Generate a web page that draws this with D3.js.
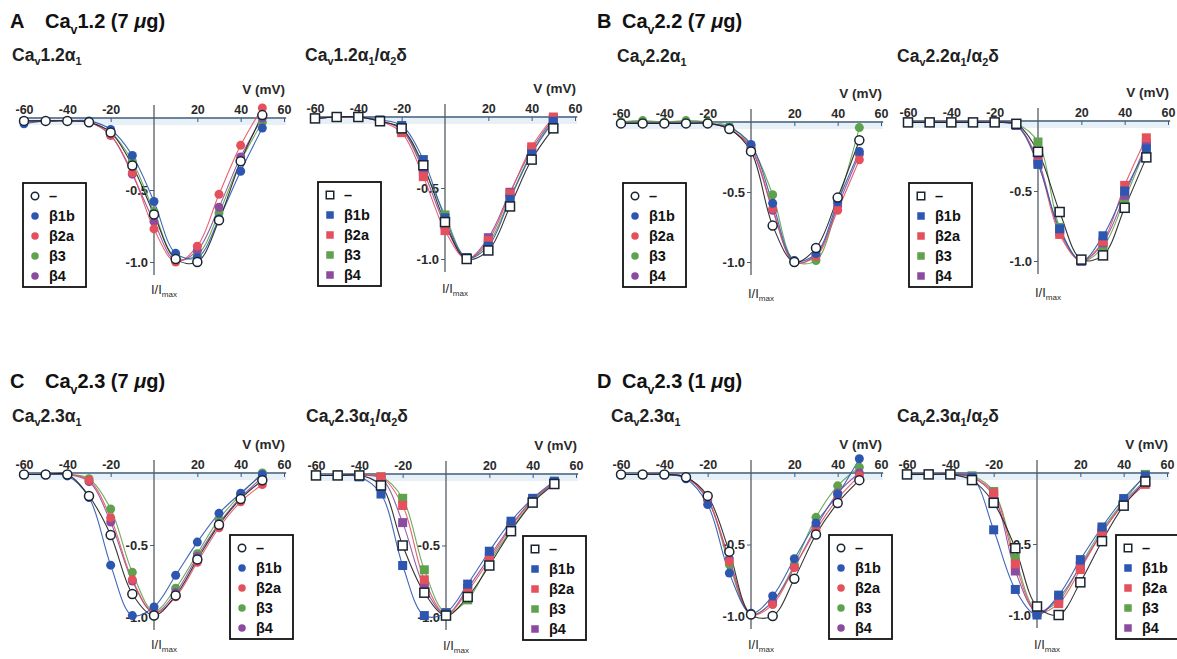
<!DOCTYPE html>
<html>
<head>
<meta charset="utf-8">
<script src="https://cdn.jsdelivr.net/npm/d3@7"></script>
<style>
  body { margin: 0; background: #fff; }
  svg { display: block; }
  text { font-family: "Liberation Sans", Arial, sans-serif; }
</style>
</head>
<body>
<div id="chart"></div>
<script>
// test potentials (mV) and series
const volts = [-60, -50, -40, -30, -20, -10, 0, 10, 20, 30, 40, 50];
const betaLabels = ["–", "β1b", "β2a", "β3", "β4"];
const betaColors = ["#1e1e1e", "#2c56b0", "#e4505c", "#5ea24e", "#8b4b9f"];
const xTicks = [-60, -40, -20, 20, 40, 60];
const yTicks = [-0.5, -1.0];

// normalised I/Imax, one row per series: control, b1b, b2a, b3, b4
const cav12Alpha1 = [
  [-0.02, -0.02, -0.02, -0.03, -0.10, -0.33, -0.67, -0.98, -1.00, -0.71, -0.30, 0.02],
  [-0.04, -0.02, -0.02, -0.02, -0.08, -0.26, -0.58, -0.94, -0.97, -0.70, -0.37, -0.07],
  [-0.02, -0.02, -0.02, -0.03, -0.12, -0.38, -0.77, -1.00, -0.89, -0.53, -0.19, 0.07],
  [-0.02, -0.02, -0.02, -0.03, -0.10, -0.30, -0.65, -0.97, -0.95, -0.66, -0.30, -0.03],
  [-0.02, -0.02, -0.02, -0.03, -0.12, -0.39, -0.72, -0.99, -0.92, -0.62, -0.27, 0.00]
];
const cav12Delta = [
  [-0.01, 0.00, 0.00, -0.03, -0.08, -0.34, -0.74, -1.00, -0.94, -0.63, -0.30, -0.08],
  [-0.01, 0.00, 0.00, -0.02, -0.06, -0.30, -0.71, -0.99, -0.91, -0.58, -0.26, -0.03],
  [-0.01, 0.00, 0.00, -0.03, -0.11, -0.42, -0.80, -1.00, -0.87, -0.54, -0.21, 0.00],
  [-0.01, 0.00, 0.00, -0.03, -0.08, -0.36, -0.69, -0.99, -0.89, -0.57, -0.25, -0.02],
  [-0.01, 0.00, 0.00, -0.03, -0.09, -0.38, -0.76, -1.00, -0.85, -0.53, -0.23, -0.01]
];
const cav22Alpha1 = [
  [-0.01, -0.01, -0.01, -0.01, -0.01, -0.05, -0.21, -0.74, -1.00, -0.90, -0.54, -0.13],
  [-0.01, -0.01, -0.01, -0.01, -0.01, -0.04, -0.16, -0.58, -0.99, -0.94, -0.57, -0.21],
  [-0.01, -0.01, -0.01, -0.01, -0.01, -0.05, -0.18, -0.62, -1.00, -0.96, -0.63, -0.27],
  [0.00, 0.01, 0.00, 0.01, 0.00, -0.03, -0.17, -0.52, -0.99, -0.99, -0.58, -0.04],
  [-0.01, -0.01, -0.01, -0.01, -0.01, -0.05, -0.19, -0.63, -1.00, -0.95, -0.60, -0.23]
];
const cav22Delta = [
  [-0.01, -0.01, -0.01, -0.01, -0.01, -0.02, -0.22, -0.65, -0.99, -0.96, -0.62, -0.26],
  [-0.01, -0.01, -0.01, -0.01, -0.01, -0.03, -0.31, -0.77, -1.00, -0.82, -0.50, -0.20],
  [-0.01, -0.01, -0.01, -0.01, -0.01, -0.03, -0.30, -0.81, -1.00, -0.86, -0.46, -0.12],
  [-0.01, -0.01, -0.01, -0.01, -0.01, -0.02, -0.15, -0.76, -1.00, -0.90, -0.56, -0.18],
  [-0.01, -0.01, -0.01, -0.01, -0.01, -0.03, -0.28, -0.79, -1.00, -0.87, -0.53, -0.16]
];
const cav23Alpha1 = [
  [-0.01, -0.01, -0.01, -0.16, -0.43, -0.84, -0.99, -0.85, -0.60, -0.36, -0.18, -0.05],
  [-0.01, -0.01, -0.02, -0.17, -0.64, -0.99, -0.93, -0.71, -0.48, -0.28, -0.14, -0.01],
  [-0.01, -0.01, -0.01, -0.05, -0.31, -0.74, -0.97, -0.86, -0.62, -0.38, -0.20, -0.08],
  [-0.01, -0.01, -0.01, -0.04, -0.25, -0.69, -0.96, -0.80, -0.56, -0.32, -0.15, 0.00],
  [-0.01, -0.01, -0.01, -0.06, -0.34, -0.75, -0.97, -0.83, -0.58, -0.35, -0.17, -0.03]
];
const cav23Delta = [
  [-0.01, -0.01, -0.01, -0.08, -0.50, -0.83, -0.99, -0.86, -0.64, -0.40, -0.20, -0.07],
  [-0.01, -0.01, -0.02, -0.14, -0.64, -0.99, -0.97, -0.77, -0.54, -0.33, -0.17, -0.05],
  [-0.01, -0.01, -0.01, -0.02, -0.22, -0.74, -0.98, -0.82, -0.60, -0.37, -0.18, -0.06],
  [-0.01, -0.01, -0.01, -0.02, -0.17, -0.67, -0.97, -0.88, -0.62, -0.39, -0.19, -0.06],
  [-0.01, -0.01, -0.01, -0.03, -0.34, -0.79, -0.98, -0.80, -0.58, -0.36, -0.18, -0.06]
];
const cav23LowAlpha1 = [
  [-0.01, -0.01, -0.01, -0.03, -0.16, -0.55, -0.99, -1.00, -0.74, -0.43, -0.21, -0.05],
  [-0.01, -0.01, -0.01, -0.04, -0.22, -0.70, -0.98, -0.86, -0.60, -0.35, -0.15, 0.10],
  [-0.01, -0.01, -0.01, -0.03, -0.18, -0.62, -0.99, -0.92, -0.66, -0.40, -0.18, -0.02],
  [-0.01, -0.01, -0.01, -0.03, -0.18, -0.64, -0.99, -0.90, -0.64, -0.31, -0.09, 0.04],
  [-0.01, -0.01, -0.01, -0.03, -0.19, -0.60, -0.99, -0.90, -0.66, -0.38, -0.14, 0.00]
];
const cav23LowDelta = [
  [-0.01, -0.01, -0.01, -0.05, -0.21, -0.53, -0.94, -1.00, -0.77, -0.48, -0.23, -0.06],
  [-0.01, -0.01, -0.01, -0.03, -0.40, -0.82, -1.00, -0.86, -0.61, -0.38, -0.18, -0.02],
  [-0.01, -0.01, -0.01, -0.03, -0.14, -0.64, -0.98, -0.92, -0.68, -0.42, -0.22, -0.08],
  [-0.01, -0.01, -0.01, -0.02, -0.13, -0.60, -0.97, -0.90, -0.65, -0.40, -0.20, -0.01],
  [-0.01, -0.01, -0.01, -0.03, -0.16, -0.69, -0.98, -0.88, -0.66, -0.42, -0.21, -0.05]
];

// text pieces: [string, style]  style: "sub" | "i" | undefined
const alpha1Sub = (n) => [["Ca"], ["v", "sub"], [n + "α"], ["1", "sub"]];
const deltaSub = (n) => [["Ca"], ["v", "sub"], [n + "α"], ["1", "sub"], ["/α"], ["2", "sub"], ["δ"]];
const headTxt = (n, dose) => [["Ca"], ["v", "sub"], [n + " (" + dose + " "], ["μ", "i"], ["g)"]];

const groups = [
  { letter: "A", x: 10, cx: 45, y: 28, text: headTxt("1.2", 7) },
  { letter: "B", x: 597, cx: 622, y: 28, text: headTxt("2.2", 7) },
  { letter: "C", x: 10, cx: 45, y: 388, text: headTxt("2.3", 7) },
  { letter: "D", x: 597, cx: 622, y: 388, text: headTxt("2.3", 1) }
];

const panels = [
  { data: cav12Alpha1, shape: "circle", ox: 154, oy: 118, h: 144, sub: alpha1Sub("1.2"), sx: 12, sy: 61, lx: 23, ly: 183 },
  { data: cav12Delta, shape: "square", ox: 445, oy: 117, h: 142, sub: deltaSub("1.2"), sx: 305, sy: 61, lx: 318, ly: 182 },
  { data: cav22Alpha1, shape: "circle", ox: 751, oy: 122, h: 140, sub: alpha1Sub("2.2"), sx: 617, sy: 62, lx: 623, ly: 183 },
  { data: cav22Delta, shape: "square", ox: 1038, oy: 121, h: 140, sub: deltaSub("2.2"), sx: 897, sy: 62, lx: 909, ly: 183 },
  { data: cav23Alpha1, shape: "circle", ox: 154, oy: 473, h: 144, sub: alpha1Sub("2.3"), sx: 12, sy: 422, lx: 230, ly: 535 },
  { data: cav23Delta, shape: "square", ox: 446, oy: 474, h: 143, sub: deltaSub("2.3"), sx: 306, sy: 422, lx: 523, ly: 536 },
  { data: cav23LowAlpha1, shape: "circle", ox: 751, oy: 473, h: 143, sub: alpha1Sub("2.3"), sx: 611, sy: 422, lx: 829, ly: 535 },
  { data: cav23LowDelta, shape: "square", ox: 1037, oy: 473, h: 142, sub: deltaSub("2.3"), sx: 897, sy: 422, lx: 1116, ly: 535 }
];

const W = 1177, H = 659;
const svg = d3.select("#chart").append("svg").attr("width", W).attr("height", H);

function rich(sel, parts, size, subShift = 0.3) {
  let shift = 0;
  parts.forEach(p => {
    const target = p[1] === "sub" ? size * subShift : 0;
    const t = sel.append("tspan").text(p[0]).attr("dy", target - shift);
    if (p[1] === "sub") t.attr("font-size", size * 0.62);
    if (p[1] === "i") t.attr("font-style", "italic");
    shift = target;
  });
}

function marker(sel, shape, cx, cy, size, i) {
  const open = i === 0;
  if (shape === "circle") {
    sel.append("circle").attr("cx", cx).attr("cy", cy).attr("r", size / 2);
  } else {
    sel.append("rect").attr("x", cx - size / 2).attr("y", cy - size / 2)
      .attr("width", size).attr("height", size);
  }
  sel.select(":last-child")
    .attr("fill", open ? "#fff" : betaColors[i])
    .attr("stroke", open ? "#1a2530" : "none")
    .attr("stroke-width", open ? 1.5 : 0);
}

groups.forEach(gr => {
  svg.append("text").attr("x", gr.x).attr("y", gr.y)
    .attr("font-size", 20).attr("font-weight", "bold").attr("fill", "#111").text(gr.letter);
  const t = svg.append("text").attr("x", gr.cx).attr("y", gr.y)
    .attr("font-size", 20).attr("font-weight", "bold").attr("fill", "#111");
  rich(t, gr.text, 20);
});

const order = [3, 4, 2, 1, 0];

panels.forEach(p => {
  const x = d3.scaleLinear().domain([-60, 60]).range([p.ox - 130, p.ox + 130]);
  const y = d3.scaleLinear().domain([0, -1]).range([p.oy, p.oy + p.h]);
  const g = svg.append("g");

  // subtitle
  const st = g.append("text").attr("x", p.sx).attr("y", p.sy)
    .attr("font-size", 17.5).attr("font-weight", "bold").attr("fill", "#222");
  rich(st, p.sub, 17.5, 0.25);

  // pale band under the voltage axis
  g.append("rect").attr("x", x(-62)).attr("y", p.oy + 1)
    .attr("width", x(61) - x(-62)).attr("height", 6).attr("fill", "#e8f0f7");

  // voltage axis
  const xa = g.append("g").attr("transform", `translate(0,${p.oy})`)
    .call(d3.axisTop(x).tickValues(xTicks).tickFormat(d => String(d))
      .tickSize(-4).tickSizeOuter(0).tickPadding(4));
  xa.select(".domain").remove();
  xa.append("line").attr("x1", x(-62)).attr("x2", x(61)).attr("stroke", "#3d5a78").attr("stroke-width", 1.3);
  xa.selectAll(".tick line").attr("stroke", "#3d5a78");
  xa.selectAll(".tick text").attr("font-size", 12.5).attr("font-weight", "bold")
    .attr("fill", "#2a2a2a").attr("font-family", "Liberation Sans, Arial, sans-serif");

  g.append("text").attr("x", x(60) + 1).attr("y", p.oy - 24).attr("text-anchor", "end")
    .attr("font-size", 13.5).attr("font-weight", "bold").attr("fill", "#2a2a2a").text("V (mV)");

  // current axis
  const ya = g.append("g").attr("transform", `translate(${x(0)},0)`)
    .call(d3.axisLeft(y).tickValues(yTicks).tickFormat(d => d.toFixed(1)).tickSize(4).tickPadding(2));
  ya.select(".domain").remove();
  ya.append("line").attr("y1", p.oy - 13).attr("y2", p.oy + p.h + 13)
    .attr("stroke", "#555c63").attr("stroke-width", 1.3);
  ya.selectAll(".tick line").attr("stroke", "#555c63");
  ya.selectAll(".tick text").attr("font-size", 13).attr("font-weight", "bold")
    .attr("fill", "#2a2a2a").attr("font-family", "Liberation Sans, Arial, sans-serif");

  const yl = g.append("text").attr("x", x(0) - 3).attr("y", p.oy + 176)
    .attr("font-size", 13).attr("fill", "#2a2a2a");
  rich(yl, [["I/I"], ["max", "sub"]], 13, 0.22);

  // curves
  const line = d3.line().x((d, j) => x(volts[j])).y(d => y(d)).curve(d3.curveCatmullRom.alpha(0.5));
  order.forEach(i => {
    g.append("path").attr("d", line(p.data[i])).attr("fill", "none")
      .attr("stroke", betaColors[i]).attr("stroke-width", 1.1).attr("opacity", 0.9);
  });

  // points
  order.forEach(i => {
    const mg = g.append("g");
    p.data[i].forEach((v, j) => marker(mg, p.shape, x(volts[j]), y(v), 9, i));
  });

  // legend
  const lg = g.append("g");
  lg.append("rect").attr("x", p.lx).attr("y", p.ly).attr("width", 63).attr("height", 104)
    .attr("fill", "#fff").attr("stroke", "#111").attr("stroke-width", 1.8);
  betaLabels.forEach((lab, i) => {
    const cy = p.ly + 13 + i * 20;
    marker(lg, p.shape, p.lx + 12, cy, 7.5, i);
    lg.append("text").attr("x", p.lx + 26).attr("y", cy + 5)
      .attr("font-size", 14.5).attr("font-weight", "bold").attr("fill", "#111").text(lab);
  });
});
</script>
</body>
</html>
